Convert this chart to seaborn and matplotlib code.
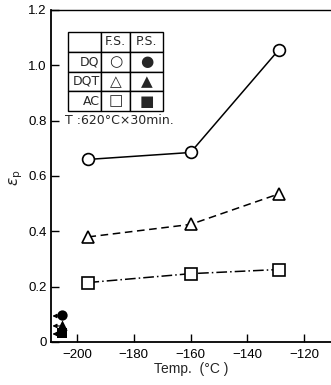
import numpy as np
import pandas as pd
import matplotlib
matplotlib.use("Agg")
import matplotlib.pyplot as plt
import seaborn as sns

# data
temps = [-196, -160, -129]
dq_fs = [0.66, 0.685, 1.055]
dqt_fs = [0.38, 0.425, 0.535]
ac_fs = [0.215, 0.247, 0.262]

ps_temp = -205.3
ps_values = [0.098, 0.062, 0.033]   # DQ, DQT, AC (P.S.)
ps_markers = ["o", "^", "s"]

y_ticks = [0, 0.2, 0.4, 0.6, 0.8, 1.0, 1.2]
y_labels = ["0", "0.2", "0.4", "0.6", "0.8", "1.0", "1.2"]
x_ticks = [-200, -180, -160, -140, -120]

sns.set_style("ticks")
plt.rcParams["font.family"] = ["Liberation Sans", "DejaVu Sans"]

fig = plt.figure(figsize=(3.31, 3.85), dpi=100)
ax = fig.add_axes([51 / 331, 1 - 342 / 385, 280 / 331, 332 / 385])

series = [
    (dq_fs, "o", "-", 8.5),
    (dqt_fs, "^", (0, (5, 3)), 9),
    (ac_fs, "s", (0, (7, 2, 1, 2)), 8),
]
for vals, mk, ls, ms in series:
    sns.lineplot(x=temps, y=vals, ax=ax, color="black", linewidth=1.1,
                 linestyle=ls, marker=mk, markersize=ms,
                 markerfacecolor="white", markeredgecolor="black",
                 markeredgewidth=1.2)

ps_df = pd.DataFrame({"t": [ps_temp] * 3, "v": ps_values, "m": ps_markers})
for _, row in ps_df.iterrows():
    sns.scatterplot(x=[row["t"]], y=[row["v"]], ax=ax, color="black",
                    marker=row["m"], s=55, edgecolor="black", linewidth=0)
    ax.annotate("", xy=(-208.7, row["v"] - 0.004), xytext=(-206.2, row["v"] - 0.004),
                arrowprops=dict(arrowstyle="-|>", color="black", lw=0.8,
                                mutation_scale=6, shrinkA=0, shrinkB=0))

ax.set_xlim(-209.2, -110.5)
ax.set_ylim(0, 1.2)
ax.set_xticks(x_ticks)
ax.set_xticklabels([f"\u2212{abs(t)}" for t in x_ticks])
ax.set_yticks(y_ticks)
ax.set_yticklabels(y_labels)
ax.tick_params(direction="in", length=6, width=1, labelsize=9.5, colors="black")
ax.tick_params(axis="x", pad=5)
ax.tick_params(axis="y", pad=3)

for side in ["left", "bottom"]:
    ax.spines[side].set_linewidth(1.3)
    ax.spines[side].set_color("black")
ax.spines["top"].set_linewidth(1.0)
ax.spines["top"].set_color("black")
ax.spines["right"].set_visible(False)

ax.set_xlabel("Temp.  (\u00b0C )", fontsize=10, labelpad=1)
ax.set_ylabel("")
fig.text(16 / 331, 1 - 178 / 385, r"$\varepsilon_{\rm p}$", rotation=90,
         fontsize=11, ha="center", va="center")

# legend table
cells = [["", "F.S.", "P.S."],
         ["DQ", "\u25cb", "\u25cf"],
         ["DQT", "\u25b3", "\u25b2"],
         ["AC", "\u25a1", "\u25a0"]]
tab = ax.table(cellText=cells, bbox=[17 / 280, (342 - 111) / 332, 95 / 280, 79 / 332],
               colWidths=[33, 29, 33], cellLoc="center")
tab.auto_set_font_size(False)
tab.set_fontsize(9)
for (r, c), cell in tab.get_celld().items():
    cell.set_linewidth(1.0)
    cell.set_edgecolor("black")
    cell.set_facecolor("white")
    txt = cell.get_text()
    txt.set_fontfamily(["DejaVu Sans"])
    if c == 0:
        cell._loc = "right"
        txt.set_ha("right")
        cell.PAD = 0.04
    if r > 0 and c > 0:
        txt.set_fontsize(11)

ax.text(14 / 280, (342 - 121) / 332, "T :620\u00b0C\u00d730min.", transform=ax.transAxes,
        fontsize=9, ha="left", va="center", family=["DejaVu Sans"])

fig.savefig("out.png", dpi=100)
